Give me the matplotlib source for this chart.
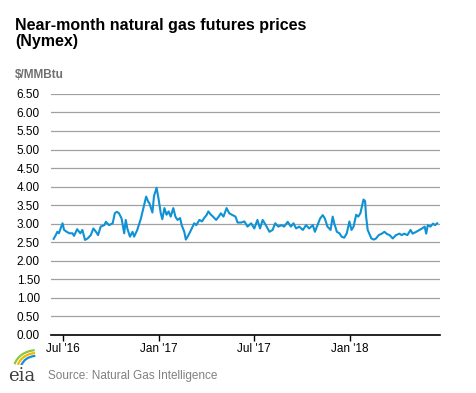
import numpy as np
import pandas as pd
from matplotlib import pyplot as plt
from matplotlib.patches import Arc

plt.rcParams["font.family"] = ["Liberation Sans", "DejaVu Sans"]

# near-month futures price, $/MMBtu
dates = [
    "2016-06-13", "2016-06-17", "2016-06-20", "2016-06-23", "2016-06-30", "2016-07-03",
    "2016-07-08", "2016-07-13", "2016-07-19", "2016-07-22", "2016-07-28", "2016-08-03",
    "2016-08-07", "2016-08-12", "2016-08-17", "2016-08-23", "2016-08-28", "2016-09-02",
    "2016-09-06", "2016-09-11", "2016-09-18", "2016-09-21", "2016-09-27", "2016-10-04",
    "2016-10-08", "2016-10-12", "2016-10-16", "2016-10-21", "2016-10-26", "2016-10-29",
    "2016-11-01", "2016-11-06", "2016-11-11", "2016-11-14", "2016-11-20", "2016-11-27",
    "2016-12-03", "2016-12-07", "2016-12-11", "2016-12-13", "2016-12-19", "2016-12-22",
    "2016-12-27", "2016-12-31", "2017-01-04", "2017-01-07", "2017-01-11", "2017-01-15",
    "2017-01-19", "2017-01-23", "2017-01-28", "2017-02-01", "2017-02-05", "2017-02-10",
    "2017-02-13", "2017-02-18", "2017-02-21", "2017-02-26", "2017-03-03", "2017-03-09",
    "2017-03-13", "2017-03-19", "2017-03-24", "2017-03-28", "2017-04-02", "2017-04-05",
    "2017-04-10", "2017-04-14", "2017-04-20", "2017-04-25", "2017-04-29", "2017-05-04",
    "2017-05-10", "2017-05-15", "2017-05-20", "2017-05-27", "2017-05-31", "2017-06-07",
    "2017-06-13", "2017-06-19", "2017-06-26", "2017-07-02", "2017-07-08", "2017-07-13",
    "2017-07-18", "2017-07-24", "2017-07-31", "2017-08-06", "2017-08-11", "2017-08-17",
    "2017-08-23", "2017-08-28", "2017-09-04", "2017-09-10", "2017-09-15", "2017-09-20",
    "2017-09-26", "2017-10-03", "2017-10-09", "2017-10-15", "2017-10-22", "2017-10-26",
    "2017-10-31", "2017-11-05", "2017-11-10", "2017-11-14", "2017-11-19", "2017-11-25",
    "2017-11-29", "2017-12-02", "2017-12-07", "2017-12-12", "2017-12-16", "2017-12-21",
    "2017-12-26", "2017-12-31", "2018-01-04", "2018-01-08", "2018-01-13", "2018-01-17",
    "2018-01-21", "2018-01-24", "2018-01-27", "2018-01-30", "2018-02-01", "2018-02-04",
    "2018-02-07", "2018-02-11", "2018-02-16", "2018-02-20", "2018-02-25", "2018-03-03",
    "2018-03-08", "2018-03-13", "2018-03-18", "2018-03-24", "2018-03-30", "2018-04-06",
    "2018-04-10", "2018-04-15", "2018-04-21", "2018-04-27", "2018-05-01", "2018-05-08",
    "2018-05-14", "2018-05-19", "2018-05-24", "2018-05-27", "2018-05-30", "2018-06-04",
    "2018-06-09", "2018-06-13", "2018-06-17",
]
prices = [
    2.59, 2.69, 2.78, 2.74, 3.01, 2.83,
    2.78, 2.74, 2.74, 2.67, 2.85, 2.74,
    2.83, 2.56, 2.60, 2.69, 2.87, 2.78,
    2.69, 2.92, 2.96, 3.05, 2.96, 3.01,
    3.28, 3.32, 3.28, 3.14, 2.74, 3.10,
    2.87, 2.65, 2.78, 2.65, 2.83, 3.14,
    3.50, 3.73, 3.59, 3.56, 3.30, 3.74,
    3.97, 3.65, 3.28, 3.12, 3.42, 3.24,
    3.33, 3.19, 3.42, 3.19, 3.10, 3.15,
    2.96, 2.78, 2.57, 2.69, 2.83, 3.01,
    2.96, 3.10, 3.06, 3.15, 3.24, 3.33,
    3.24, 3.19, 3.10, 3.19, 3.28, 3.19,
    3.42, 3.28, 3.24, 3.19, 3.03, 3.03,
    3.06, 2.92, 3.01, 2.87, 3.10, 2.87,
    3.10, 2.96, 2.78, 2.83, 3.01, 2.92,
    2.96, 2.92, 3.05, 2.92, 3.01, 2.87,
    2.92, 2.83, 2.96, 2.87, 2.96, 2.78,
    2.96, 3.14, 3.23, 3.14, 2.92, 2.83,
    3.19, 3.01, 2.78, 2.74, 2.65, 2.62,
    2.74, 3.06, 2.83, 2.92, 3.24, 3.19,
    3.28, 3.47, 3.65, 3.61, 3.19, 2.83,
    2.73, 2.60, 2.57, 2.60, 2.69, 2.73,
    2.78, 2.72, 2.69, 2.60, 2.69, 2.73,
    2.69, 2.73, 2.69, 2.83, 2.73, 2.78,
    2.83, 2.87, 2.92, 2.73, 2.96, 2.92,
    3.00, 2.96, 3.01,
]
tick_dates = ["2016-07-01", "2017-01-01", "2017-07-01", "2018-01-01"]
tick_labels = ["Jul '16", "Jan '17", "Jul '17", "Jan '18"]
yticks = np.arange(0, 6.51, 0.5)

x = pd.to_datetime(dates)

fig = plt.figure(figsize=(4.77, 3.93), dpi=100)
ax = fig.add_axes([0.107, 0.148, 0.815, 0.613])

ax.plot(x, prices, color="#0f92d4", linewidth=1.5, zorder=3)

ax.set_ylim(0, 6.5)
ax.set_xlim(pd.Timestamp("2016-06-08"), pd.Timestamp("2018-06-22"))
ax.set_yticks(yticks)
ax.set_yticklabels(["%.2f" % v for v in yticks], fontsize=8.5)
ax.set_xticks(pd.to_datetime(tick_dates))
ax.set_xticklabels(tick_labels, fontsize=8.5)
ax.grid(axis="y", color="#a0a0a0", linewidth=0.9)
ax.set_axisbelow(True)
for s in ["top", "right", "left"]:
    ax.spines[s].set_visible(False)
ax.spines["bottom"].set_color("black")
ax.spines["bottom"].set_linewidth(1.2)
ax.spines["bottom"].set_zorder(4)
ax.tick_params(axis="y", length=0, pad=8)
ax.tick_params(axis="x", length=4, width=1, color="black", pad=2)

# titles
fig.text(0.032, 0.955, "Near-month natural gas futures prices\n(Nymex)",
         fontsize=11.5, fontweight="bold", va="top", ha="left", linespacing=1.15)
fig.text(0.032, 0.81, "$/MMBtu", fontsize=8.5, color="#707070",
         fontweight="bold", va="center")

# source line with a rough eia mark
fig.text(0.1, 0.028, "Source: Natural Gas Intelligence", fontsize=8.5,
         color="#808080", va="bottom")
fig.text(0.017, 0.02, "eia", fontsize=13, family="DejaVu Serif",
         color="#404040", va="bottom")
logo = fig.add_axes([0.02, 0.07, 0.06, 0.06])
logo.set_axis_off()
logo.set_xlim(0, 1)
logo.set_ylim(0, 1)
for r, c in [(1.0, "#8cc63f"), (0.85, "#f2b705"), (0.7, "#1a8fd0")]:
    logo.add_patch(Arc((0.95, -0.15), r * 1.6, r * 1.6, theta1=95, theta2=165,
                       color=c, linewidth=1.6))

fig.savefig("out.png", dpi=100)
